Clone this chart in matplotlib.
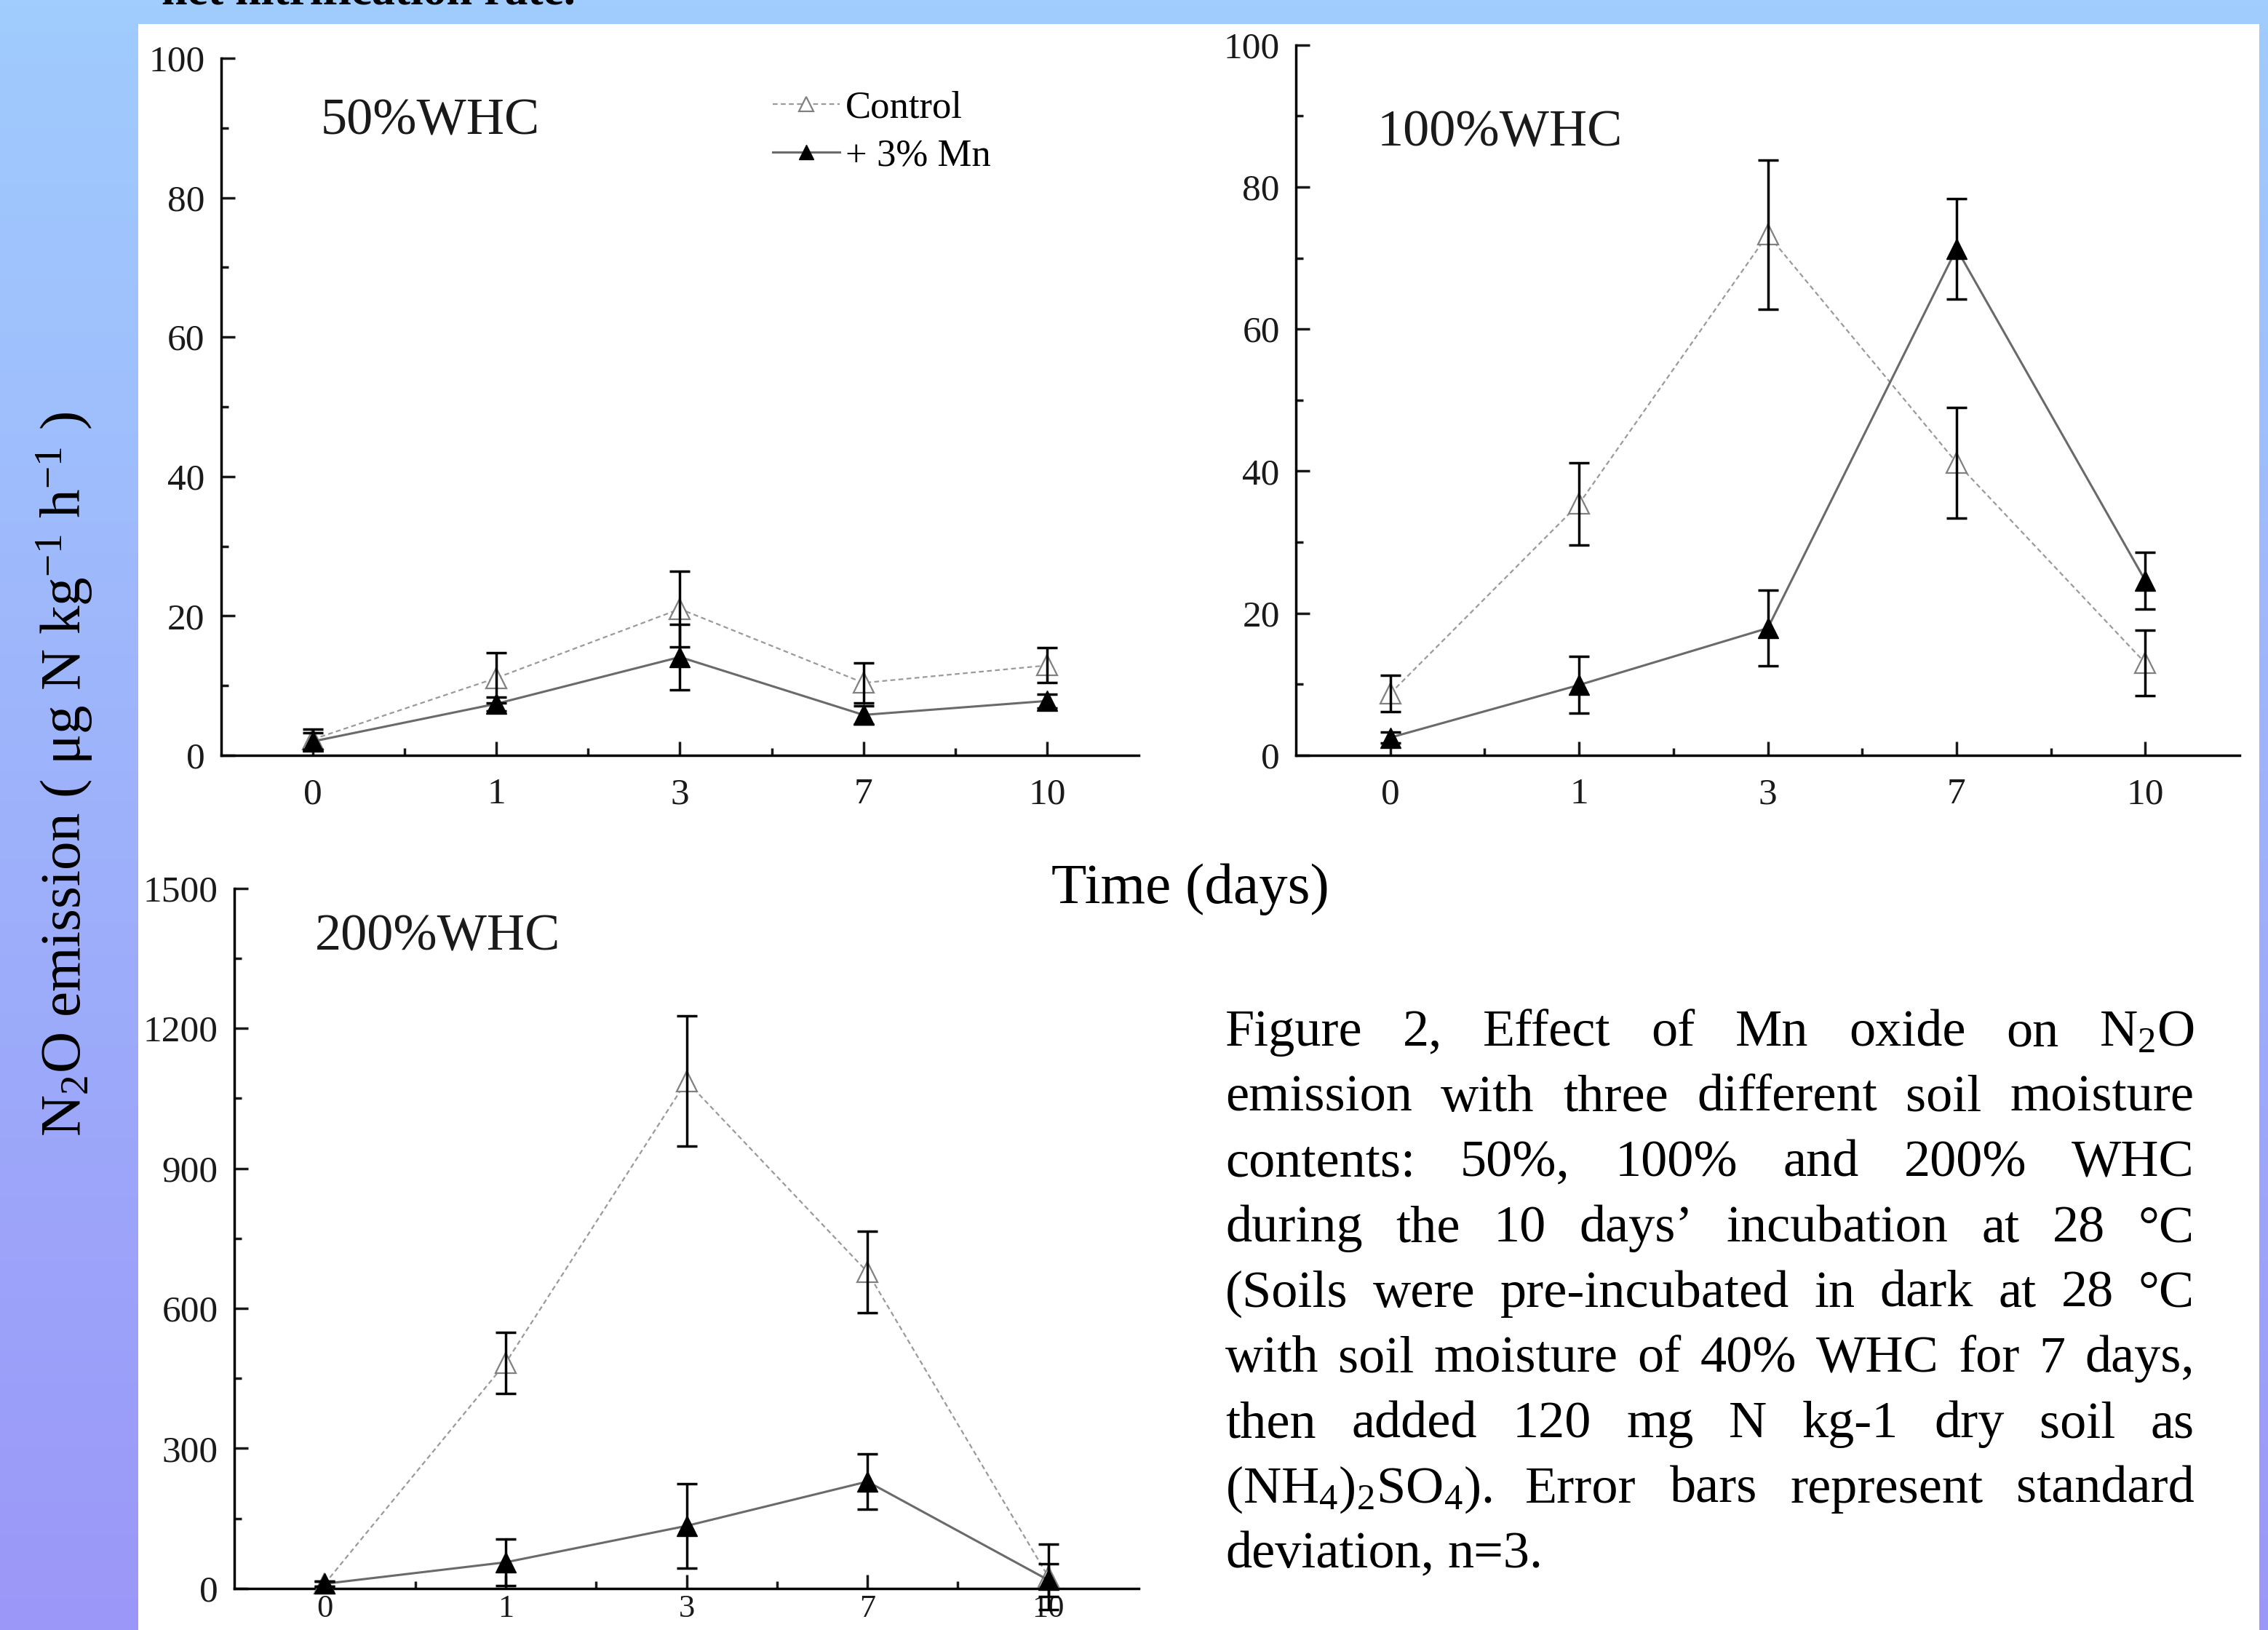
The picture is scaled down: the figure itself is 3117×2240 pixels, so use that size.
import numpy as np
import matplotlib.pyplot as plt
from matplotlib.patches import Rectangle

plt.rcParams['font.family'] = ['Liberation Serif', 'DejaVu Serif']
plt.rcParams['mathtext.fontset'] = 'custom'
plt.rcParams['mathtext.rm'] = 'Liberation Serif'
plt.rcParams['mathtext.it'] = 'Liberation Serif:italic'

# sampling days (categorical positions on the x axis)
days = ['0', '1', '3', '7', '10']

# 50% WHC
ctrl_50 = [2.3, 11.1, 21.0, 10.4, 12.9]
ctrl_50_err = [1.5, 3.6, 5.4, 2.9, 2.5]
mn_50 = [2.0, 7.4, 14.1, 5.8, 7.8]
mn_50_err = [1.2, 1.0, 4.7, 1.3, 1.0]

# 100% WHC
ctrl_100 = [8.7, 35.4, 73.3, 41.2, 13.0]
ctrl_100_err = [2.6, 5.8, 10.5, 7.8, 4.6]
mn_100 = [2.5, 9.9, 17.9, 71.3, 24.6]
mn_100_err = [0.8, 4.0, 5.3, 7.1, 4.0]

# 200% WHC
ctrl_200 = [10, 483, 1087, 678, 25]
ctrl_200_err = [5, 65, 140, 88, 70]
mn_200 = [10, 56, 134, 229, 18]
mn_200_err = [5, 50, 91, 60, 35]

caption_lines = [
    'Figure 2, Effect of Mn oxide on N$_2$O',
    'emission with three different soil moisture',
    'contents: 50%, 100% and 200% WHC',
    'during the 10 days\u2019 incubation at 28 \u00b0C',
    '(Soils were pre-incubated in dark at 28 \u00b0C',
    'with soil moisture of 40% WHC for 7 days,',
    'then added 120 mg N kg-1 dry soil as',
    '(NH$_4$)$_2$SO$_4$). Error bars represent standard',
    'deviation, n=3.',
]

W, H = 3117, 2240
fig = plt.figure(figsize=(W / 100, H / 100), dpi=100)


def fx(px):
    return px / W


def fy(py):
    return 1 - py / H


# slide background: blue-to-violet gradient with a white content box
bg = fig.add_axes([0, 0, 1, 1], zorder=-10)
bg.axis('off')
top_c = np.array([160, 204, 254]) / 255
bot_c = np.array([155, 151, 248]) / 255
t = np.linspace(0, 1, 256)[:, None, None]
grad = top_c * (1 - t) + bot_c * t
bg.imshow(grad, extent=[0, 1, 0, 1], aspect='auto')
bg.add_patch(Rectangle((fx(190), 0), fx(3105) - fx(190), fy(33), facecolor='white', edgecolor='none'))
bg.set_xlim(0, 1)
bg.set_ylim(0, 1)

# last line of the slide text above, cut by the top edge as in the slide
fig.text(fx(222), fy(6), 'net nitrification rate.', fontsize=46, fontweight='bold', va='baseline')


def draw_panel(rect, ctrl, ctrl_err, mn, mn_err, ymax, ystep, title, title_xy, xpad=22, xsize=37):
    ax = fig.add_axes(rect)
    ax.patch.set_alpha(0)
    x = np.arange(len(days))
    ax.plot(x, ctrl, color='#9a9a9a', lw=1.6, ls=(0, (3, 2)), marker='^', ms=20,
            mfc='white', mec='#808080', mew=1.6, label='Control', zorder=3, clip_on=False)
    ax.plot(x, mn, color='#6a6a6a', lw=2.2, marker='^', ms=20,
            mfc='black', mec='black', label='+ 3% Mn', zorder=3, clip_on=False)
    for vals, errs in [(ctrl, ctrl_err), (mn, mn_err)]:
        eb = ax.errorbar(x, vals, yerr=errs, fmt='none', ecolor='black', elinewidth=2.5,
                         capsize=10, capthick=2.5, zorder=4)
        for art in eb.lines[1] + eb.lines[2]:
            art.set_clip_on(False)
    ax.set_xlim(-0.5, 4.5)
    ax.set_ylim(0, ymax)
    ax.set_xticks(x)
    ax.set_xticklabels(days)
    ax.set_xticks(x[:-1] + 0.5, minor=True)
    ax.set_yticks(np.arange(0, ymax + 1, ystep))
    ax.set_yticks(np.arange(ystep / 2, ymax, ystep), minor=True)
    for s in ['top', 'right']:
        ax.spines[s].set_visible(False)
    for s in ['left', 'bottom']:
        ax.spines[s].set_linewidth(2.5)
    ax.tick_params(which='both', direction='in', width=2.5, labelsize=37, colors='#1a1a1a')
    ax.tick_params(which='major', length=14)
    ax.tick_params(which='minor', length=7)
    ax.tick_params(axis='x', pad=xpad, labelsize=xsize)
    ax.tick_params(axis='y', pad=16)
    fig.text(fx(title_xy[0]), fy(title_xy[1]), title, fontsize=52, ha='left', va='center', color='#1a1a1a')
    return ax


ax1 = draw_panel([0.0975, 0.5366, 0.4046, 0.4277], ctrl_50, ctrl_50_err, mn_50, mn_50_err,
                 100, 20, '50%WHC', (441, 167))
ax2 = draw_panel([0.5714, 0.5366, 0.4161, 0.4359], ctrl_100, ctrl_100_err, mn_100, mn_100_err,
                 100, 20, '100%WHC', (1893, 183))
ax3 = draw_panel([0.1033, 0.0255, 0.3988, 0.4295], ctrl_200, ctrl_200_err, mn_200, mn_200_err,
                 1500, 300, '200%WHC', (433, 1288), xpad=6, xsize=32)

ax1.legend(loc='upper left', bbox_to_anchor=(fx(1062), fy(124)), bbox_transform=fig.transFigure,
           frameon=False, fontsize=38, handlelength=1.75, handletextpad=0.15, labelspacing=0.35,
           markerscale=0.7, borderpad=0, borderaxespad=0)

fig.text(fx(89), fy(1064), 'N$_2$O emission ( \u03bcg N kg$^{-1}$ h$^{-1}$ )', rotation=90,
         ha='center', va='center', fontsize=57)
fig.text(fx(1636), fy(1222), 'Time (days)', ha='center', va='center', fontsize=57)

# justified caption block
renderer = fig.canvas.get_renderer()
cap_left, cap_right = 1684, 3016
base0, pitch = 1437, 89.7
space_px = 0.25 * 52 * 100 / 72
for i, line in enumerate(caption_lines):
    y = fy(base0 + i * pitch)
    words = line.split(' ')
    texts = [fig.text(0, y, w, fontsize=52, va='baseline', ha='left') for w in words]
    widths = [tx.get_window_extent(renderer).width for tx in texts]
    if i == len(caption_lines) - 1 or len(words) < 2:
        gap = space_px
    else:
        gap = (cap_right - cap_left - sum(widths)) / (len(words) - 1)
    xpos = cap_left
    for tx, w in zip(texts, widths):
        tx.set_x(fx(xpos))
        xpos += w + gap

fig.savefig('out.png', dpi=100)
